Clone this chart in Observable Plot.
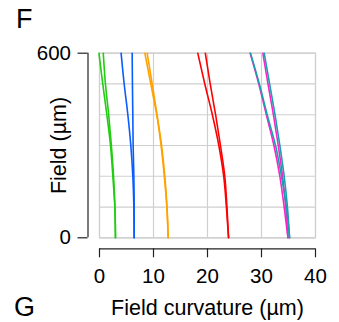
<!DOCTYPE html>
<html>
<head>
<meta charset="utf-8">
<script src="https://cdn.jsdelivr.net/npm/d3@7"></script>
<script src="https://cdn.jsdelivr.net/npm/@observablehq/plot@0.6"></script>
<style>
  html, body { margin: 0; padding: 0; background: #fff; }
  #wrap { position: relative; width: 339px; height: 322px; overflow: hidden; font-family: "Liberation Sans", Arial, Helvetica, sans-serif; }
  .panel { position: absolute; font-size: 27px; line-height: 1; color: #000; }
</style>
</head>
<body>
<div id="wrap">
  <div class="panel" style="left:16px; top:6px;">F</div>
  <div class="panel" style="left:14px; top:294px;">G</div>
</div>
<script>
// Field positions (µm), sampled top to bottom of the curves
const fields = [0, 100, 200, 300, 400, 500, 600];
const xTicks = [0, 10, 20, 30, 40];
const yTicks = [0, 600];
const yGrid = [0, 100, 200, 300, 400, 500, 600];

// Field curvature (µm) at each field, two curves (T / S) per colour
const greenT   = [2.96, 2.84, 2.47, 2.04, 1.36, 0.60, -0.1];
const greenS   = [2.96, 2.86, 2.60, 2.20, 1.70, 1.10, 0.70];
const blueT    = [6.42, 6.36, 6.17, 5.80, 5.25, 4.57, 4.00];
const blueS    = [6.42, 6.42, 6.36, 6.23, 6.17, 6.10, 6.05];
const orangeT  = [12.72, 12.47, 12.00, 11.40, 10.60, 9.50, 8.40];
const orangeS  = [12.72, 12.50, 12.10, 11.50, 10.65, 9.75, 8.83];
const redT     = [23.9, 23.5, 23.0, 22.1, 20.9, 19.5, 18.2];
const redS     = [23.9, 23.6, 23.2, 22.4, 21.5, 20.5, 19.6];
const magentaT = [34.9, 34.2, 33.4, 32.3, 30.9, 29.5, 27.9];
const magentaS = [34.9, 34.5, 33.9, 33.1, 32.2, 31.2, 30.25];
const tealT    = [35.2, 34.6, 33.7, 32.6, 31.05, 29.6, 27.96];
const tealS    = [35.2, 34.8, 34.2, 33.4, 32.5, 31.5, 30.5];

const seriesList = [
  {name: "greenT", values: greenT, color: "#22cc11"},
  {name: "greenS", values: greenS, color: "#22cc11"},
  {name: "blueT", values: blueT, color: "#0a5cff"},
  {name: "blueS", values: blueS, color: "#0a5cff"},
  {name: "orangeT", values: orangeT, color: "#ffa200"},
  {name: "orangeS", values: orangeS, color: "#ffa200"},
  {name: "redT", values: redT, color: "#ff0000"},
  {name: "redS", values: redS, color: "#ff0000"},
  {name: "magentaT", values: magentaT, color: "#ff22cc"},
  {name: "magentaS", values: magentaS, color: "#ff22cc"},
  {name: "tealT", values: tealT, color: "#17a0ad"},
  {name: "tealS", values: tealS, color: "#17a0ad"}
];

const rows = seriesList.flatMap(s => s.values.map((v, i) => ({series: s.name, color: s.color, x: v, y: fields[i]})));

const axisColor = "#222";
const gridColor = "#cfcfcf";

const chart = Plot.plot({
  width: 339,
  height: 322,
  marginLeft: 99,
  marginRight: 24,
  marginTop: 52.7,
  marginBottom: 84.7,
  style: {fontFamily: "'Liberation Sans', Arial, Helvetica, sans-serif", fontSize: "20.5px", color: "#000", background: "transparent"},
  x: {domain: [xTicks[0], xTicks[xTicks.length - 1]]},
  y: {domain: [yTicks[0], yTicks[yTicks.length - 1]]},
  marks: [
    Plot.gridX(xTicks, {stroke: gridColor, strokeOpacity: 1, strokeWidth: 1.2}),
    Plot.gridY(yGrid, {stroke: gridColor, strokeOpacity: 1, strokeWidth: 1.2}),
    Plot.frame({stroke: gridColor, strokeWidth: 1.2}),
    Plot.line(rows, {x: "x", y: "y", z: "series", stroke: "color", strokeWidth: 1.6, curve: "monotone-y"}),
    // x axis (offset below the plot)
    Plot.ruleY([yTicks[0]], {x1: xTicks[0], x2: xTicks[xTicks.length - 1], dy: 11, stroke: axisColor, strokeWidth: 1.2}),
    Plot.axisX(xTicks, {tickSize: 9, dy: 11, tickPadding: 11, fontSize: 20.5, label: null, stroke: axisColor, strokeWidth: 1.2}),
    // y axis (offset left of the plot)
    Plot.ruleX([xTicks[0]], {y1: yTicks[0], y2: yTicks[yTicks.length - 1], dx: -11.5, stroke: axisColor, strokeWidth: 1.2}),
    Plot.axisY(yTicks, {tickSize: 10, dx: -11.5, tickPadding: 7, fontSize: 20.5, label: null, stroke: axisColor, strokeWidth: 1.2}),
    Plot.text(["Field curvature (µm)"], {frameAnchor: "bottom", dy: 77, lineAnchor: "bottom", textAnchor: "middle", fontSize: 21.5, fill: "#000"}),
    Plot.text(["Field (µm)"], {frameAnchor: "left", dx: -40, rotate: -90, textAnchor: "middle", fontSize: 21.5, fill: "#000"})
  ]
});
chart.style.position = "absolute";
chart.style.left = "0px";
chart.style.top = "0px";
document.getElementById("wrap").prepend(chart);
</script>
</body>
</html>
